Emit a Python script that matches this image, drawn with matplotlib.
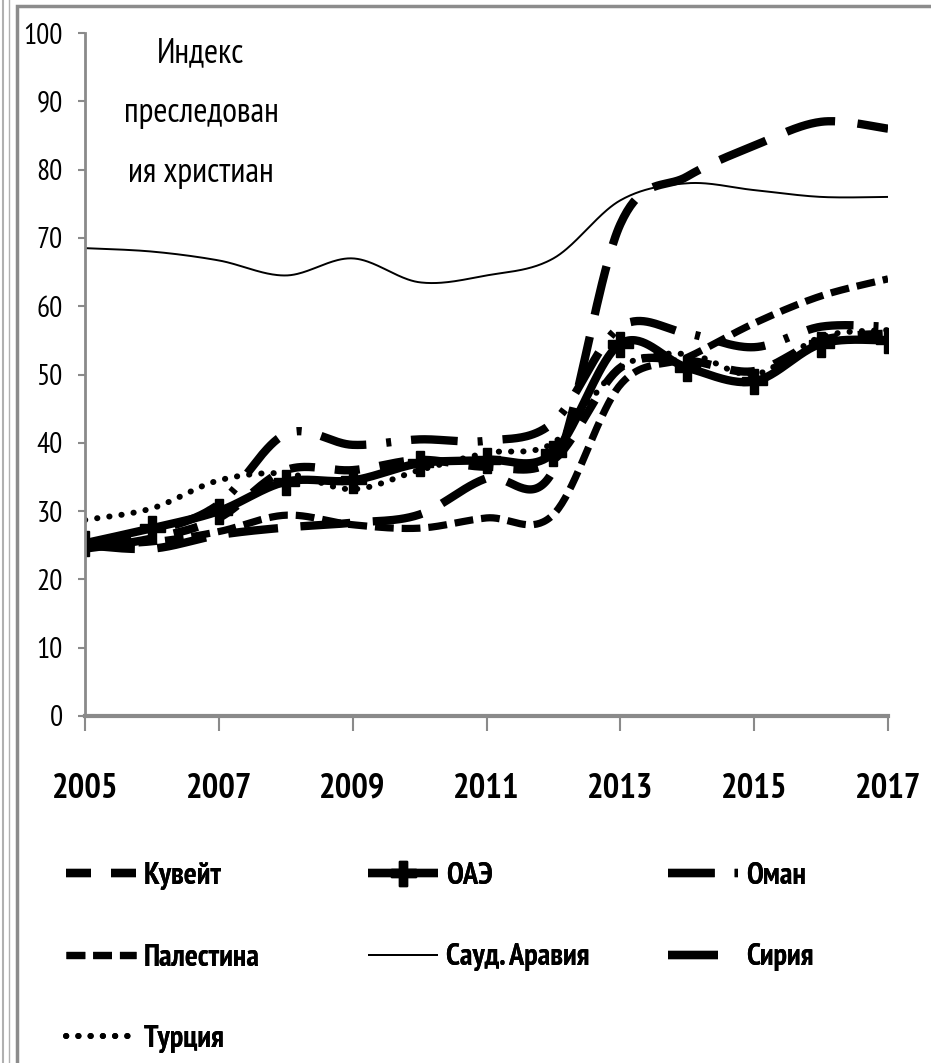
import numpy as np
import matplotlib
matplotlib.use("Agg")
import matplotlib.pyplot as plt
from matplotlib.lines import Line2D
from matplotlib.patches import Rectangle
from matplotlib import font_manager as fm
from matplotlib.ft2font import FT2Font

# ---------------- data ----------------
years = [2005, 2006, 2007, 2008, 2009, 2010, 2011, 2012, 2013, 2014, 2015, 2016, 2017]
kuwait    = [24.5, 26.0, 29.0, 36.0, 36.0, 37.5, 36.5, 37.5, 51.0, 52.0, 50.5, 55.0, 56.0]
uae       = [25.3, 27.5, 30.0, 34.3, 34.5, 37.0, 37.5, 38.5, 54.5, 51.0, 49.0, 54.5, 55.0]
oman      = [25.0, 27.0, 31.0, 41.3, 39.7, 40.5, 40.3, 43.0, 57.0, 56.0, 54.0, 57.0, 57.0]
palestine = [25.0, 25.5, 27.0, 29.4, 28.0, 27.5, 29.0, 29.5, 48.5, 52.5, 57.5, 61.5, 64.0]
saudi     = [68.5, 68.0, 66.7, 64.5, 67.0, 63.5, 64.5, 67.0, 75.5, 78.0, 77.0, 76.0, 76.0]
syria     = [25.0, 24.5, 26.5, 27.6, 28.3, 29.5, 34.8, 36.0, 72.0, 79.0, 83.5, 87.0, 86.0]
turkey    = [28.7, 30.4, 34.5, 35.5, 33.2, 36.0, 38.5, 40.0, 51.0, 53.0, 50.0, 55.5, 56.5]

labels = ["Кувейт", "ОАЭ", "Оман", "Палестина", "Сауд. Аравия", "Сирия", "Турция"]
xticks = [2005, 2007, 2009, 2011, 2013, 2015, 2017]
yticks = list(range(0, 101, 10))
title_text = "Индекс\nпреследован\nия христиан"

# ---------------- font choice (narrow face with Cyrillic) ----------------
def pick_narrow():
    prefs = ["PT Sans Narrow", "Fira Sans Extra Condensed", "Roboto Condensed",
             "Ubuntu Condensed", "Open Sans Condensed", "IBM Plex Sans Condensed",
             "Fira Sans Condensed", "Archivo Narrow", "Encode Sans Condensed",
             "Liberation Sans Narrow", "Noto Sans"]
    by_name = {}
    for f in fm.fontManager.ttflist:
        by_name.setdefault(f.name, []).append(f)
    for name in prefs:
        for f in by_name.get(name, []):
            try:
                ft = FT2Font(f.fname)
                if ft.get_char_index(ord("И")) and ft.get_char_index(ord("й")):
                    return name
            except Exception:
                pass
    return "DejaVu Sans"

NARROW_NAME = pick_narrow()
NARROW = [NARROW_NAME, "DejaVu Sans"]
plt.rcParams["font.family"] = NARROW

# ---------------- helpers ----------------
W, H = 931, 1063
fx = lambda px: px / W
fy = lambda py: 1 - py / H

def smooth(x, y, n=40):
    """Excel-like smoothed line (Catmull-Rom Bezier) through the data points."""
    P = np.column_stack([np.asarray(x, float), np.asarray(y, float)])
    P = np.vstack([P[0], P, P[-1]])
    xs, ys, idx = [], [], []
    t = np.linspace(0, 1, n, endpoint=False)
    for i in range(1, len(P) - 2):
        p0, p1, p2, p3 = P[i - 1], P[i], P[i + 1], P[i + 2]
        c1 = p1 + (p2 - p0) / 6.0
        c2 = p2 - (p3 - p1) / 6.0
        b = ((1 - t) ** 3)[:, None] * p1 + (3 * (1 - t) ** 2 * t)[:, None] * c1 \
            + (3 * (1 - t) * t ** 2)[:, None] * c2 + (t ** 3)[:, None] * p2
        idx.append(len(xs))
        xs.extend(b[:, 0]); ys.extend(b[:, 1])
    idx.append(len(xs))
    xs.append(P[-2][0]); ys.append(P[-2][1])
    return np.array(xs), np.array(ys), idx

fig = plt.figure(figsize=(W / 100, H / 100), dpi=100)
ax = fig.add_axes([fx(85), fy(716), fx(888) - fx(85), fy(33) - fy(716)])

TH = 6.0  # thick line width (pt)
styles = {
    "Кувейт":       dict(lw=TH, ls=(0, (3.0, 2.4)), dash_capstyle="butt"),
    "ОАЭ":          dict(lw=TH, ls="-", marker="P", ms=18, mec="black", mfc="black"),
    "Оман":         dict(lw=TH, ls=(0, (5.6, 2.4, 0.6, 2.4)), dash_capstyle="butt"),
    "Палестина":    dict(lw=5.2, ls=(0, (2.6, 1.1)), dash_capstyle="butt"),
    "Сауд. Аравия": dict(lw=1.4, ls="-"),
    "Сирия":        dict(lw=TH, ls=(0, (6.0, 2.7)), dash_capstyle="butt"),
    "Турция":       dict(lw=4.3, ls=(0, (0.05, 2.0)), dash_capstyle="round"),
}
series = [kuwait, uae, oman, palestine, saudi, syria, turkey]

handles = {}
for lab, vals in zip(labels, series):
    xs, ys, idx = smooth(years, vals)
    st = dict(styles[lab])
    if "marker" in st:
        st["markevery"] = idx
    ln, = ax.plot(xs, ys, color="black", solid_capstyle="butt", label=lab, **st)
    handles[lab] = ln

ax.set_xlim(2005, 2017)
ax.set_ylim(0, 100)
ax.set_xticks(xticks)
ax.set_xticklabels([str(v) for v in xticks])
ax.set_yticks(yticks)
ax.set_yticklabels([str(v) for v in yticks])

GREY = "#8a8a8a"
for s in ["top", "right"]:
    ax.spines[s].set_visible(False)
ax.spines["left"].set_color(GREY)
ax.spines["left"].set_linewidth(2.0)
ax.spines["bottom"].set_color(GREY)
ax.spines["bottom"].set_linewidth(3.0)
ax.tick_params(axis="y", direction="out", length=5, width=1.5, color=GREY,
               pad=11, labelsize=21, labelcolor="black")
ax.tick_params(axis="x", direction="out", length=11, width=1.5, color=GREY,
               pad=30, labelsize=25, labelcolor="black")
for t in ax.get_xticklabels():
    t.set_fontweight("bold")

fig.text(fx(201), fy(37), title_text, ha="center", va="top", fontsize=24.5,
         linespacing=2.12, multialignment="center")

# legend in three columns
leg_prop = dict(family=NARROW, weight="bold", size=22)
cols = [(["Кувейт", "Палестина", "Турция"], 66),
        (["ОАЭ", "Сауд. Аравия"], 368),
        (["Оман", "Сирия"], 668)]
for labs, x0 in cols:
    lg = fig.legend([handles[l] for l in labs], labs, loc="upper left",
                    bbox_to_anchor=(fx(x0), fy(862)), frameon=False,
                    handlelength=2.3, handletextpad=0.25, labelspacing=1.75,
                    borderpad=0, borderaxespad=0, prop=leg_prop, numpoints=1)
    fig.add_artist(lg)

# outer frame like the source figure
fig.add_artist(Line2D([fx(3), fx(3)], [0, 1], color="#b0b0b0", lw=1.5))
fig.add_artist(Line2D([fx(9), fx(9)], [0, 1], color="#b0b0b0", lw=1.0))
fig.add_artist(Rectangle((fx(17), -0.01), 1.0, fy(6) + 0.01, fill=False,
                         edgecolor="#8c8c8c", lw=2.5))

fig.savefig("out.png", dpi=100)
